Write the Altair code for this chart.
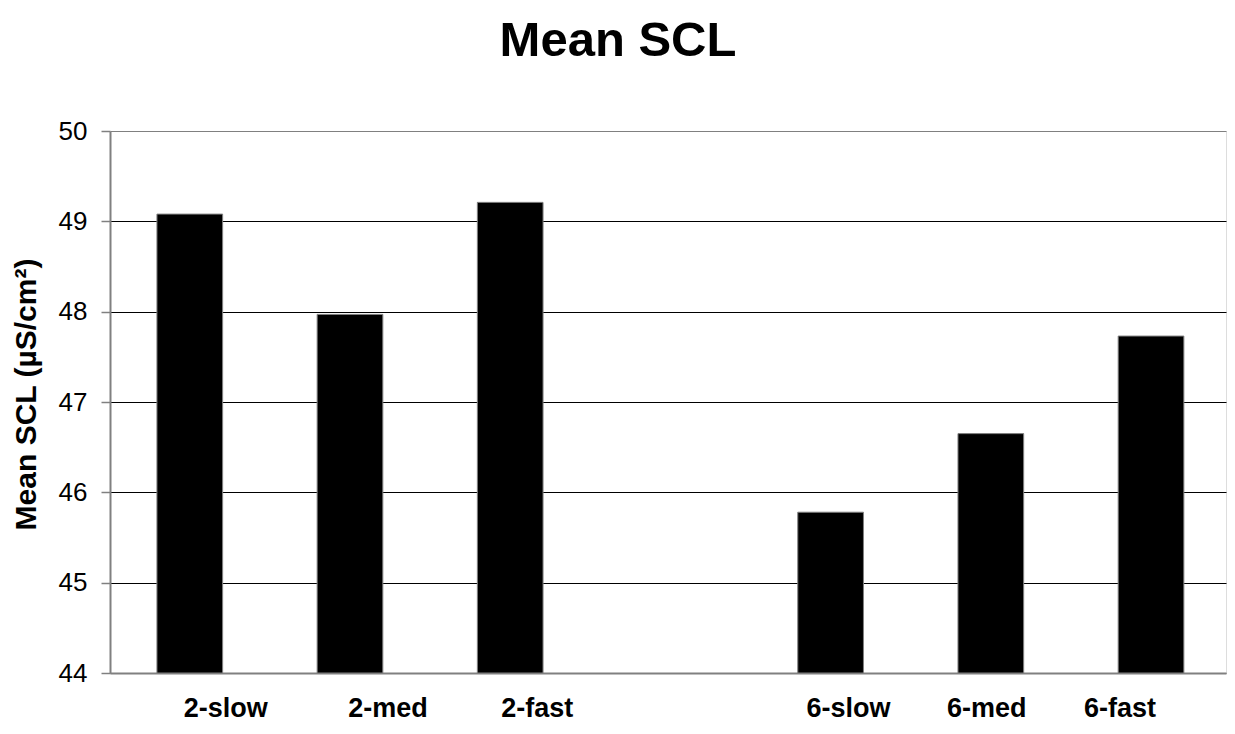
import altair as alt
import pandas as pd

categories = ["2-slow", "2-med", "2-fast", "6-slow", "6-med", "6-fast"]
values = [49.08, 47.97, 49.21, 45.78, 46.65, 47.73]
x_domain = ["2-slow", "2-med", "2-fast", " ", "6-slow", "6-med", "6-fast"]
y_ticks = [44, 45, 46, 47, 48, 49, 50]
label_shift = {"2-slow": 36, "2-med": 38, "2-fast": 27, "6-slow": 18, "6-med": -4, "6-fast": -31}

df = pd.DataFrame({"cond": categories, "scl": values})

FONT = "Liberation Sans"
GRAY = "#808080"

offset_cond = {
    "condition": [{"test": f"datum.value === '{k}'", "value": v} for k, v in label_shift.items()],
    "value": 0,
}
grid_cond = {
    "condition": {"test": "datum.value === 50 || datum.value === 44", "value": GRAY},
    "value": "#000000",
}

bars = alt.Chart(df).mark_bar(color="black", stroke=GRAY, strokeWidth=1).encode(
    x=alt.X(
        "cond:N",
        sort=x_domain,
        scale=alt.Scale(domain=x_domain, paddingInner=0.59, paddingOuter=0.278, align=0.527),
        axis=alt.Axis(
            title=None,
            labelAngle=0,
            labelFont=FONT,
            labelFontSize=27,
            labelFontWeight="bold",
            labelColor="black",
            labelPadding=43,
            labelBaseline="alphabetic",
            ticks=False,
            domainColor=GRAY,
            domainWidth=2,
            labelOffset=offset_cond,
        ),
    ),
    y=alt.Y(
        "scl:Q",
        scale=alt.Scale(domain=[44, 50], nice=False, zero=False),
        axis=alt.Axis(
            values=y_ticks,
            title="Mean SCL (µS/cm²)",
            titleFont=FONT,
            titleFontSize=30,
            titleFontWeight="bold",
            titleColor="black",
            titleAngle=270,
            titleX=-75,
            titleY=263,
            titleAlign="center",
            titleBaseline="alphabetic",
            labelFont=FONT,
            labelFontSize=26,
            labelColor="black",
            labelPadding=14,
            tickSize=9,
            tickColor=GRAY,
            tickWidth=1.5,
            domainColor=GRAY,
            domainWidth=2,
            grid=True,
            gridColor=grid_cond,
            gridWidth=1,
        ),
    ),
    y2=alt.datum(44),
)

chart = bars.properties(
    width=1116,
    height=542,
    padding={"left": 102, "top": 123, "right": 1, "bottom": 53},
    autosize=alt.AutoSizeParams(type="none"),
    title=alt.Title(
        "Mean SCL",
        font=FONT,
        fontSize=49,
        fontWeight="bold",
        color="black",
        anchor="middle",
        dx=-50,
        offset=13,
        baseline="alphabetic",
    ),
).configure_view(stroke=GRAY, strokeWidth=2).configure(background="white")

chart.save("out.html", embed_options={"renderer": "svg", "actions": False})
